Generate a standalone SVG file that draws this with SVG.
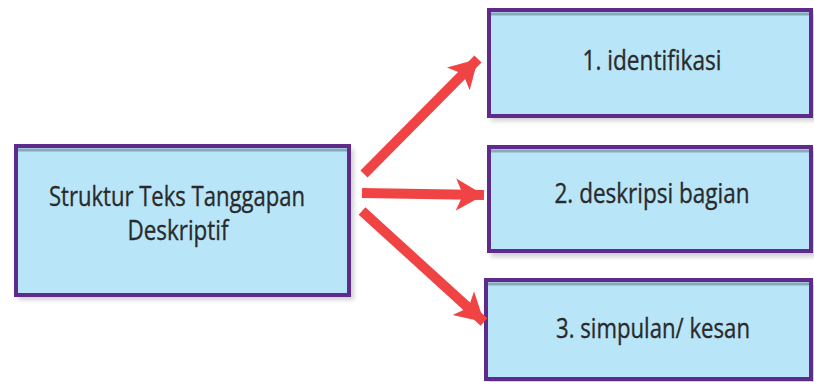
<svg xmlns="http://www.w3.org/2000/svg" width="814" height="382" viewBox="0 0 814 382">
<defs>
<style>
.box{fill:#B9E5F8;stroke:#5E2A8C;stroke-width:4}
.shadow{fill:#9a9a9a;opacity:0.45}
.inner{fill:none;stroke:#8AA9B8;stroke-width:3}
.lbl{font-family:"Open Sans","Liberation Sans",sans-serif;font-size:27px;fill:#2a2a2a;stroke:#2a2a2a;stroke-width:0.35;text-anchor:middle}
.arr{stroke:#F04444;stroke-width:10;fill:none}
</style>
<marker id="ah" markerUnits="userSpaceOnUse" markerWidth="32" markerHeight="36" refX="28" refY="18" orient="auto" viewBox="0 0 32 36">
<path d="M0,2 L28,18 L0,34 L7,18 Z" fill="#F04444"/>
</marker>
<filter id="blur" x="-10%" y="-10%" width="120%" height="120%"><feGaussianBlur stdDeviation="2"/></filter>
</defs>
<g id="node-main">
<rect class="shadow" x="18" y="149" width="336" height="151" filter="url(#blur)"/>
<rect class="box" x="16" y="146" width="333" height="149"/>
<line class="inner" x1="18" y1="150" x2="347" y2="150"/>
<text class="lbl" x="177" y="206" textLength="256" lengthAdjust="spacingAndGlyphs">Struktur Teks Tanggapan</text>
<text class="lbl" x="178" y="240" textLength="101" lengthAdjust="spacingAndGlyphs">Deskriptif</text>
</g>
<g id="node-1">
<rect class="shadow" x="491" y="12" width="326" height="109" filter="url(#blur)"/>
<rect class="box" x="489" y="10" width="322" height="106"/>
<line class="inner" x1="491" y1="14" x2="809" y2="14"/>
<text class="lbl" x="652" y="70" textLength="139" lengthAdjust="spacingAndGlyphs">1. identifikasi</text>
</g>
<g id="node-2">
<rect class="shadow" x="491" y="149" width="326" height="108" filter="url(#blur)"/>
<rect class="box" x="489" y="147" width="322" height="104"/>
<line class="inner" x1="491" y1="151" x2="809" y2="151"/>
<text class="lbl" x="652" y="203" textLength="195" lengthAdjust="spacingAndGlyphs">2. deskripsi bagian</text>
</g>
<g id="node-3">
<rect class="shadow" x="488" y="282" width="329" height="104" filter="url(#blur)"/>
<rect class="box" x="486" y="280" width="325" height="99"/>
<line class="inner" x1="488" y1="284" x2="809" y2="284"/>
<text class="lbl" x="653" y="338" textLength="194" lengthAdjust="spacingAndGlyphs">3. simpulan/ kesan</text>
</g>
<g id="connectors">
<line class="arr" x1="364" y1="174" x2="478" y2="59" marker-end="url(#ah)"/>
<line class="arr" x1="362" y1="193" x2="484" y2="195" marker-end="url(#ah)"/>
<line class="arr" x1="362" y1="211" x2="484" y2="322" marker-end="url(#ah)"/>
</g>
</svg>
